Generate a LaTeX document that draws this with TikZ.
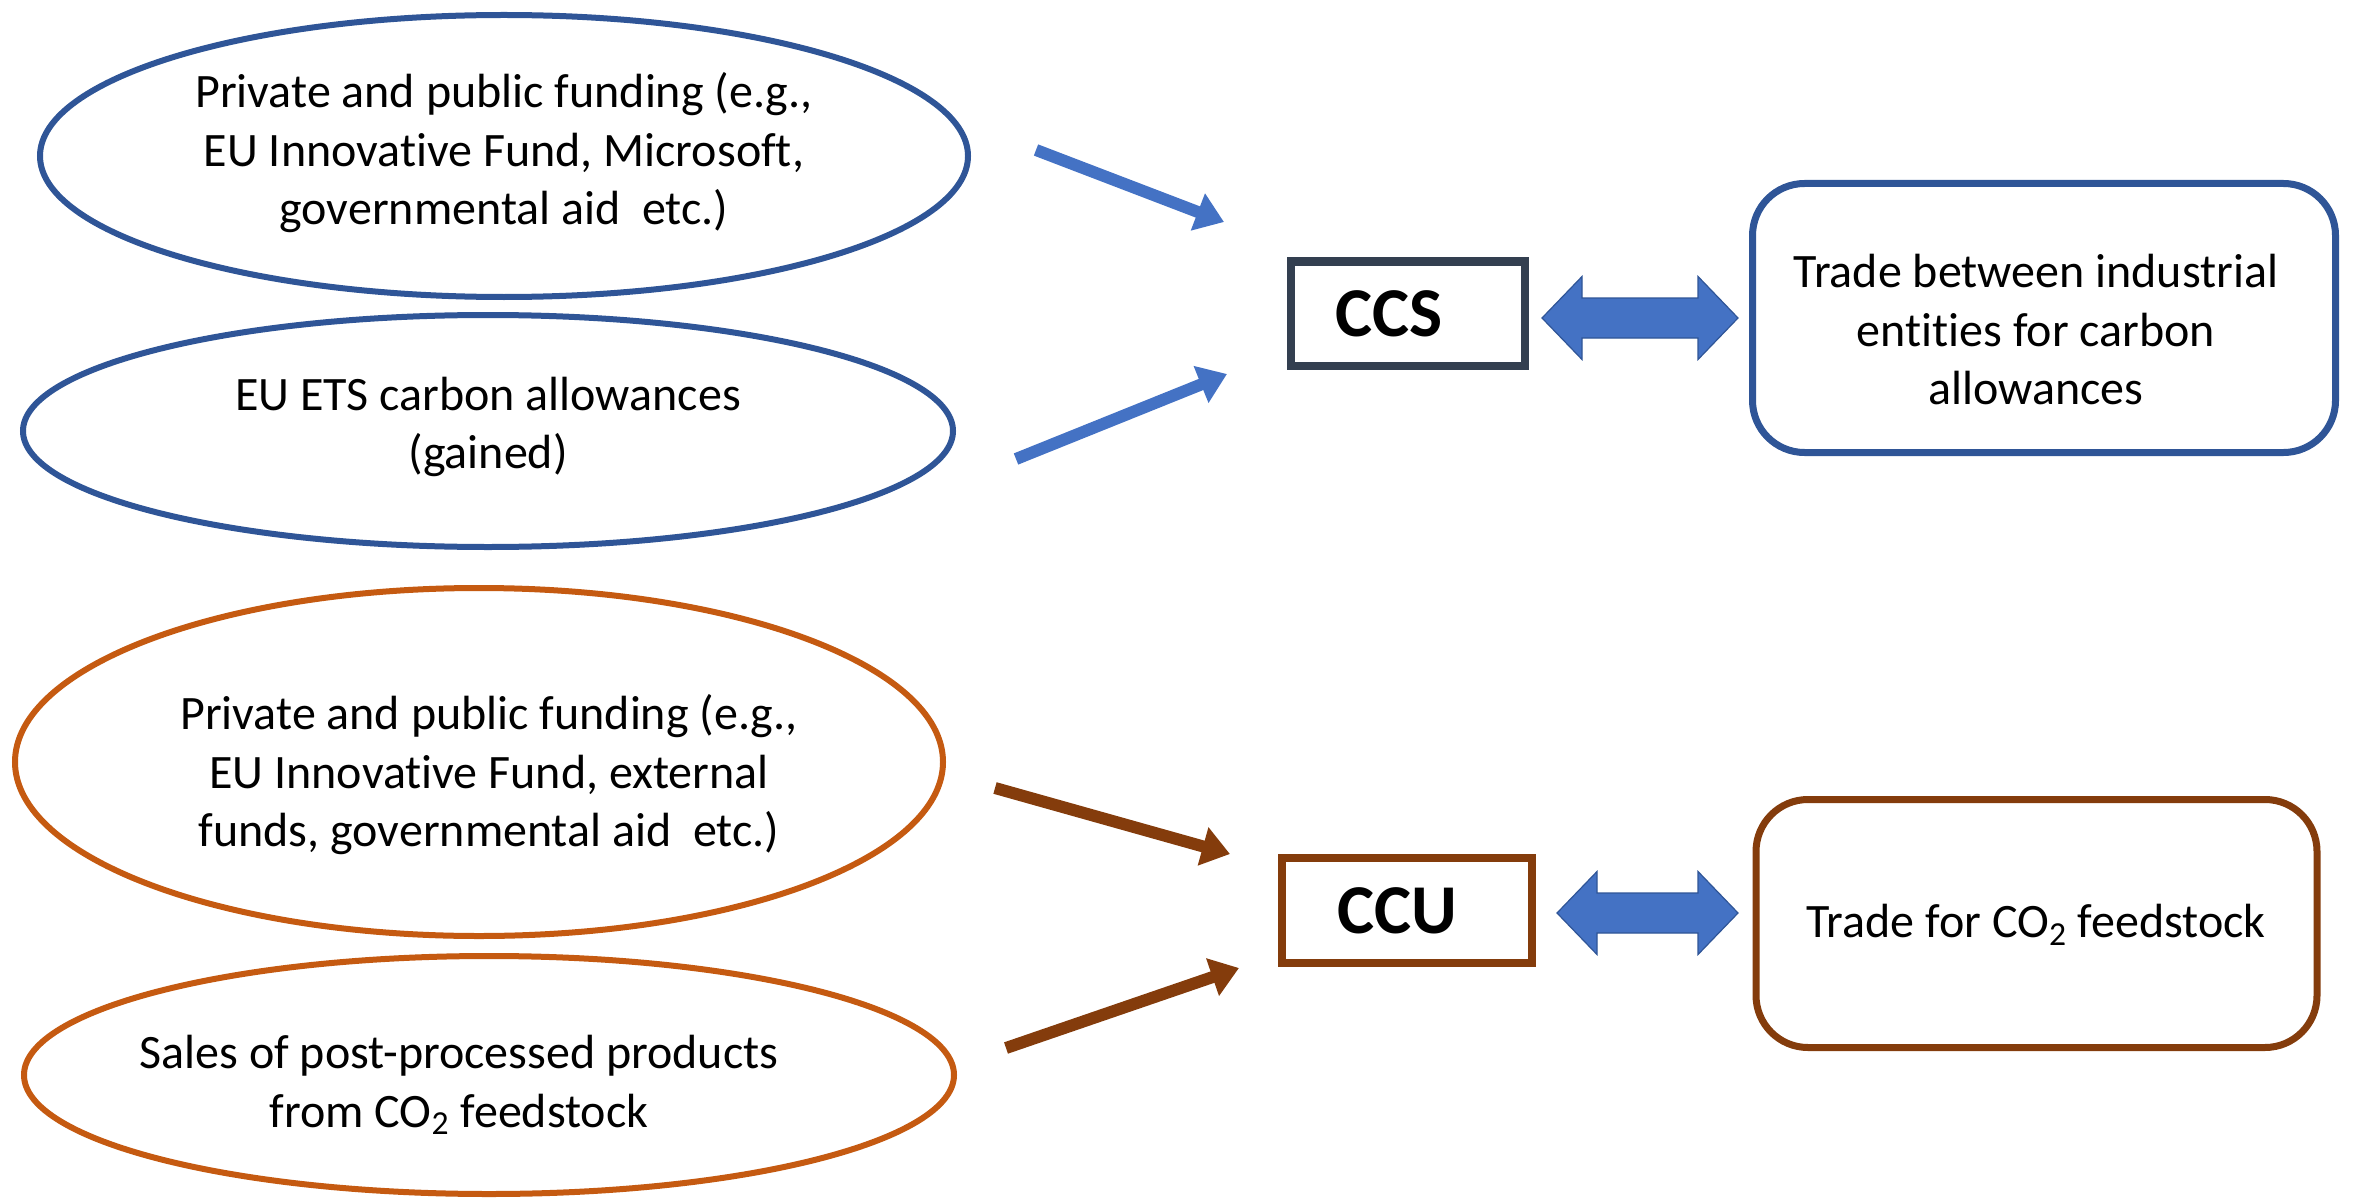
\documentclass[tikz,border=0pt]{standalone}
\usepackage{fontspec}
\setmainfont{Carlito}[Ligatures=NoCommon]
\usetikzlibrary{shapes.geometric,arrows.meta,calc}

\definecolor{ccsblue}{HTML}{2F5597}
\definecolor{arrowblue}{HTML}{4472C4}
\definecolor{ccuorange}{HTML}{C55A11}
\definecolor{ccubrown}{HTML}{843C0C}
\definecolor{slate}{HTML}{333F50}

% closed double-headed block arrow between two x positions at height y
\newcommand{\blockarrow}[3]{%
  \fill[arrowblue, draw=ccsblue, line width=0.6pt]
    (#1,#3) -- ++(40,-41.5) -- ++(0,21.5) -- ($(#2,#3)+(-40,-20)$)
    -- ++(0,-21.5) -- (#2,#3) -- ++(-40,41.5) -- ++(0,-21.5)
    -- ($(#1,#3)+(40,20)$) -- ++(0,21.5) -- cycle;}

\begin{document}
\begin{tikzpicture}[x=0.5pt,y=-0.5pt,
  txt/.style={font=\fontsize{24}{29.25}\selectfont, align=center, text=black, inner sep=0pt},
  source/.style={ellipse, line width=3pt, inner sep=0pt, fill=white},
  ccssrc/.style={source, draw=ccsblue},
  ccusrc/.style={source, draw=ccuorange},
  tech/.style={rectangle, line width=4pt, inner sep=0pt, fill=white,
    font=\fontsize{35}{40}\selectfont\bfseries},
  market/.style={rectangle, rounded corners=26pt, line width=3.5pt, inner sep=0pt, fill=white},
  flow/.style={line width=6pt, -{Triangle[length=14pt, width=19pt]}},
]
\useasboundingbox (0,0) rectangle (2354,1198);

% funding sources for CCS
\node[ccssrc, minimum width=464pt, minimum height=141pt] (e1) at (504,156) {};
\node[txt] (t1) at (504,153) {Private and public funding (e.g.,\\EU Innovative Fund, Microsoft,\\governmental aid\ \ etc.)};
\node[ccssrc, minimum width=465pt, minimum height=116pt] (e2) at (488,431) {};
\node[txt] (t2) at (488,427) {EU ETS carbon allowances\\(gained)};

% funding sources for CCU
\node[ccusrc, minimum width=464pt, minimum height=174pt] (e3) at (479,762) {};
\node[txt] (t3) at (489,775) {Private and public funding (e.g.,\\EU Innovative Fund, external\\funds, governmental aid\ \ etc.)};
\node[ccusrc, minimum width=465pt, minimum height=119pt] (e4) at (489,1075) {};
\node[txt] (t4) at (459,1085) {Sales of post-processed products\\from CO\textsubscript{2} feedstock};

% technologies
\node[tech, draw=slate, minimum width=117pt, minimum height=52pt] (ccs) at (1407.5,313.5) {CCS\hspace*{18pt}};
\node[tech, draw=ccubrown, minimum width=125pt, minimum height=52.5pt] (ccu) at (1407,910.5) {CCU\hspace*{10pt}};

% markets
\node[market, draw=ccsblue, minimum width=291.5pt, minimum height=134.5pt] (m1) at (2044,318) {};
\node[txt] (tm1) at (2036,330) {Trade between industrial\\entities for carbon\\allowances};
\node[market, draw=ccubrown, minimum width=280.5pt, minimum height=124pt] (m2) at (2036.5,923.5) {};
\node[txt] (tm2) at (2036,925) {Trade for CO\textsubscript{2} feedstock};

% flow arrows
\coordinate (a1s) at (1036,150); \coordinate (a1e) at (1224,222);
\coordinate (a2s) at (1016,459); \coordinate (a2e) at (1227,374);
\coordinate (a3s) at (995,788);  \coordinate (a3e) at (1230,854);
\coordinate (a4s) at (1006,1048); \coordinate (a4e) at (1239,968);
\draw[flow, arrowblue] (a1s) -- (a1e);
\draw[flow, arrowblue] (a2s) -- (a2e);
\draw[flow, ccubrown] (a3s) -- (a3e);
\draw[flow, ccubrown] (a4s) -- (a4e);

% trading links
\blockarrow{1542}{1738}{318}
\blockarrow{1557}{1738}{913}
\end{tikzpicture}
\end{document}
